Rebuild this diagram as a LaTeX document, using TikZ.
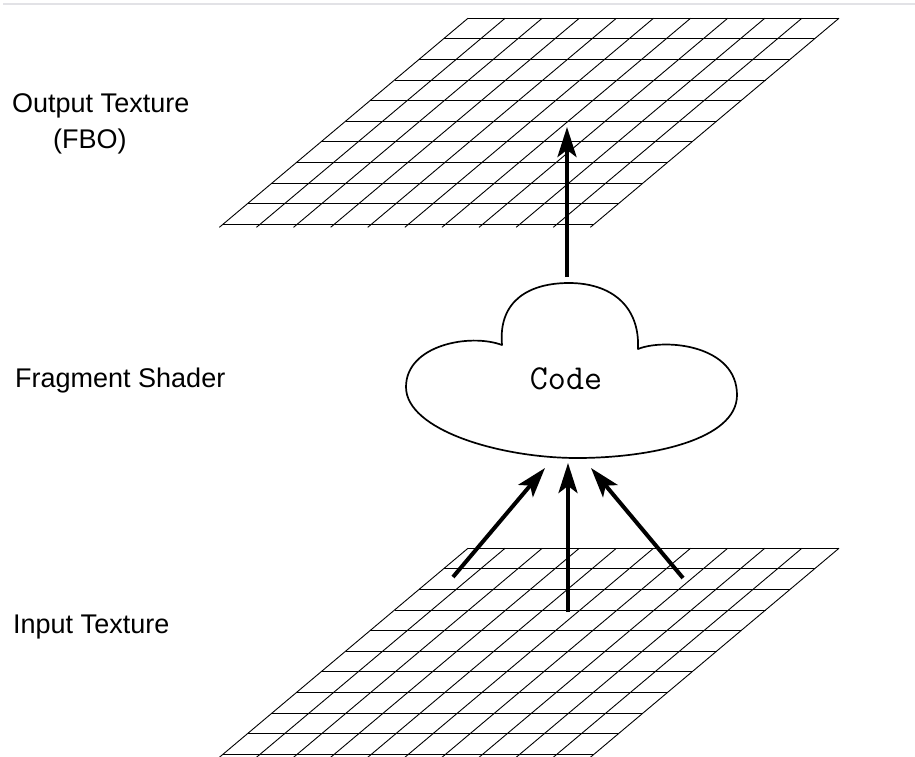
\documentclass[tikz,border=0pt]{standalone}
\usepackage{fontspec}
\setmainfont{Liberation Sans}
\usetikzlibrary{arrows.meta}
\definecolor{rulegray}{HTML}{E2E2E6}
\tikzset{
  gridline/.style={line width=0.9pt, black},
  cloudline/.style={line width=1.7pt, black, line join=round},
  flow/.style={line width=4pt, -{Stealth[length=30pt,width=19pt,inset=7pt]}},
  label/.style={anchor=base west, inner sep=0pt, font=\fontsize{27}{33}\selectfont},
}
\begin{document}
\begin{tikzpicture}[x=1pt,y=-1pt]
\useasboundingbox (0,0) rectangle (915,757);
\draw[rulegray, line width=2pt] (3,4) -- (915,4);

% grids
\foreach \oy in {18.25,548.25}{
  \foreach \i in {0,...,10}{
    \draw[gridline] ({468-24.5*\i},{\oy+20.6*\i}) -- ({468-24.5*\i+371},{\oy+20.6*\i});
    \draw[gridline] ({468+37.1*\i},{\oy}) -- ({468+37.1*\i-24.5*10.15},{\oy+20.6*10.15});
  }
}

% cloud
\draw[cloudline, fill=white] (502,345)
  .. controls (498,300) and (530,283) .. (569,283)
  .. controls (610,283) and (640,305) .. (638,349)
  .. controls (665,338) and (737,345) .. (737,395)
  .. controls (737,440) and (650,458) .. (577,458)
  .. controls (500,458) and (406,430) .. (406,387)
  .. controls (406,345) and (470,333) .. cycle;
\node[anchor=base, inner sep=0pt, font=\ttfamily\fontsize{35}{40}\selectfont] (code) at (566,389) {Code};

% labels
\node[label] (outlbl) at (12,113) {Output Texture};
\node[label] (fbolbl) at (53,148) {(FBO)};
\node[label] (fraglbl) at (15,387) {Fragment Shader};
\node[label] (inlbl) at (13,633) {Input Texture};

% arrow end points
\coordinate (cloudtop) at (567,277);
\coordinate (outpt) at (567,127);
\coordinate (inL) at (453,577);
\coordinate (inM) at (568,612);
\coordinate (inR) at (683,578);
\coordinate (cbL) at (545,468);
\coordinate (cbM) at (568,463);
\coordinate (cbR) at (591,468);

\draw[flow] (cloudtop) -- (outpt);
\draw[flow] (inL) -- (cbL);
\draw[flow] (inM) -- (cbM);
\draw[flow] (inR) -- (cbR);
\end{tikzpicture}
\end{document}
